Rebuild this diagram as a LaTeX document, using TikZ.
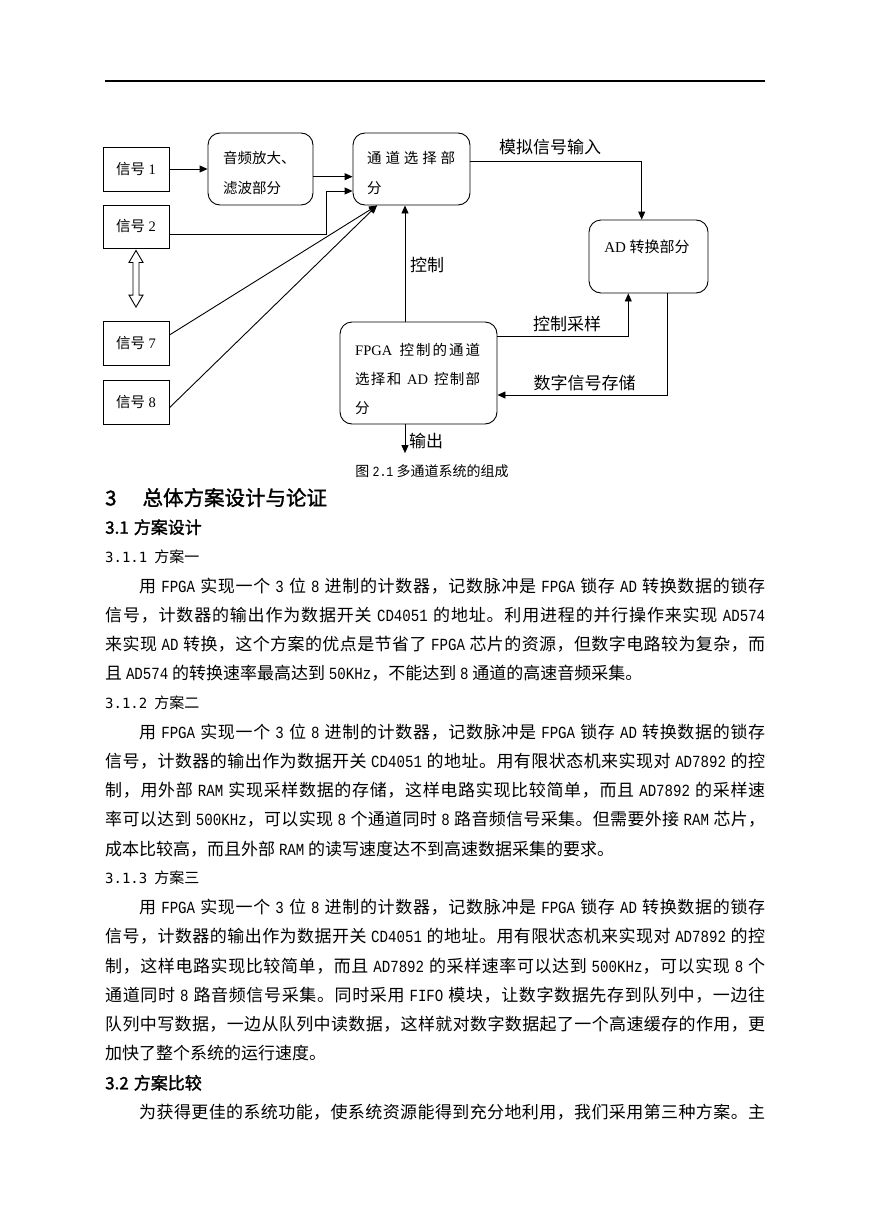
\documentclass[tikz,border=0pt]{standalone}
\usepackage{fontspec}
\setmainfont{Liberation Serif}
\newfontfamily\cjk{Noto Sans CJK SC}
\newfontfamily\hei{Noto Sans CJK SC}[FakeBold=1.5]
\newfontfamily\lt{Liberation Mono}[FakeStretch=0.83]
\newfontfamily\dvm{DejaVu Sans Mono}
\usetikzlibrary{arrows.meta,calc}

\newcount\cjkcc
\cjkcc="3000
\loop \XeTeXcharclass\cjkcc=1 \advance\cjkcc by 1 \ifnum\cjkcc<"A000 \repeat
\cjkcc="FF00
\loop \XeTeXcharclass\cjkcc=1 \advance\cjkcc by 1 \ifnum\cjkcc<"FFF0 \repeat
\XeTeXinterchartoks 1 1 = {\hskip 0pt plus 1pt\relax}
\newcommand\jl[2]{\hbox to #1{\XeTeXinterchartokenstate=1 #2}}
\newcommand\secnum[1]{{\dvm\fontsize{14}{14}\selectfont #1}\hskip 7pt}

\begin{document}
\begin{tikzpicture}[x=1pt,y=-1pt,
  sbox/.style={draw, line width=0.9pt, minimum width=66pt, inner sep=0pt, font=\fontsize{14.5}{14.5}\selectfont},
  rbox/.style={draw, line width=0.9pt, rounded corners=12pt, inner sep=0pt},
  conn/.style={line width=0.9pt, -{Triangle[length=8pt,width=7pt]}},
  dtxt/.style={anchor=base west, inner sep=0pt, font=\fontsize{14.5}{14.5}\selectfont},
  lbl/.style={inner sep=0pt, font=\cjk\fontsize{17}{17}\selectfont},
  body/.style={anchor=base west, inner sep=0pt, font=\cjk\fontsize{17}{17}\selectfont},
  hone/.style={anchor=base west, inner sep=0pt, font=\hei\fontsize{20.5}{20.5}\selectfont},
  htwo/.style={anchor=base west, inner sep=0pt, font=\hei\fontsize{17}{17}\selectfont},
  hthree/.style={anchor=base west, inner sep=0pt, font=\cjk\fontsize{15}{15}\selectfont}
]
\path[use as bounding box, fill=white] (0,0) rectangle (869,1228);
\draw[line width=1.2pt] (105,81) -- (765,81);

% boxes
\node[sbox, minimum height=44pt] (s1) at (136,169) {{\cjk 信号} 1};
\node[sbox, minimum height=43pt] (s2) at (136,226.5) {{\cjk 信号} 2};
\node[sbox, minimum height=43.5pt] (s7) at (136,343.3) {{\cjk 信号} 7};
\node[sbox, minimum height=44pt] (s8) at (136,402) {{\cjk 信号} 8};
\node[rbox, minimum width=105pt, minimum height=72pt] (aud) at (260.5,169) {};
\node[rbox, minimum width=117pt, minimum height=72pt] (chan) at (411.5,169) {};
\node[rbox, minimum width=119pt, minimum height=73pt] (ad) at (648.5,256.5) {};
\node[rbox, minimum width=157pt, minimum height=102pt] (fpga) at (418.5,373) {};

% box texts
\node[dtxt] (aud-a) at (223,163.5) {\cjk 音频放大、};
\node[dtxt] (aud-b) at (223,193.5) {\cjk 滤波部分};
\node[dtxt] (chan-a) at (367,163.5) {\cjk\jl{88pt}{通道选择部}};
\node[dtxt] (chan-b) at (367,193.5) {\cjk 分};
\node[dtxt] (fp-a) at (355,355.5) {\jl{125pt}{FPGA {\cjk 控制的通道}}};
\node[dtxt] (fp-b) at (355,384.5) {\jl{125pt}{{\cjk 选择和} AD {\cjk 控制部}}};
\node[dtxt] (fp-c) at (355,413.5) {\cjk 分};
\node[dtxt, anchor=base, font=\fontsize{15}{15}\selectfont] (ad-t) at (647,252.5) {AD {\cjk 转换部分}};

% connectors
\draw[conn] (s1.east) -- (aud.west);
\draw[conn] ($(aud.east)+(0,7.7)$) -- ($(chan.west)+(0,7.7)$);
\draw[conn] ($(s2.east)+(0,7.8)$) -| ($(chan.west)+(-26,22)$) -- ($(chan.west)+(0,22)$);
\coordinate (chin) at ($(chan.south)+(-34.5,0)$);
\draw[conn] ($(s7.east)+(0,-8.3)$) -- (chin);
\draw[conn] ($(s8.east)+(0,5.7)$) -- (chin);
\coordinate (ctlx) at (405,0);
\draw[conn] (fpga.north -| ctlx) -- (chan.south -| ctlx);
\coordinate (outend) at ($(fpga.south -| ctlx)+(0,28.7)$);
\draw[conn] (fpga.south -| ctlx) -- (outend);
\draw[conn] ($(chan.east)+(0,-7.3)$) -| ($(ad.north)+(-6.8,0)$);
\draw[conn] ($(fpga.east)+(0,-37)$) -| ($(ad.south)+(-20.2,0)$);
\draw[conn] ($(ad.south)+(19.2,0)$) |- ($(fpga.east)+(0,22)$);

% hollow double arrow
\coordinate (dtop) at ($(s2.south)+(0,2)$);
\coordinate (dbot) at ($(s7.north)+(0,-14)$);
\draw[line width=0.9pt, fill=white] (dtop) -- ++(7,12) -- ++(-4,0) -- ($(dbot)+(3,-12)$) -- ++(4,0) -- (dbot) -- ++(-7,-12) -- ++(4,0) -- ($(dtop)+(-3,12)$) -- ++(-4,0) -- cycle;

% labels
\node[lbl] (l-sim) at (550,147) {模拟信号输入};
\node[lbl] (l-ctl) at (427,265) {控制};
\node[lbl] (l-samp) at (567,324) {控制采样};
\node[lbl] (l-store) at (584.5,383) {数字信号存储};
\node[lbl] (l-out) at (426,441) {输出};
\node[inner sep=0pt, font=\cjk\fontsize{14}{14}\selectfont] (cap) at (432,471) {图 {\lt 2.1} 多通道系统的组成};

% text
\node[hone] (h3) at (105,505.4) {3\hskip 26pt 总体方案设计与论证};
\node[htwo] (h31) at (105,533.7) {3.1\hskip 5pt 方案设计};
\node[hthree] (h311) at (105,562.2) {\secnum{3.1.1}方案一};
\node[body] (p1a) at (105,592.0) {\jl{660pt}{\hspace*{34pt}用 {\lt FPGA} 实现一个 {\lt 3} 位 {\lt 8} 进制的计数器，记数脉冲是 {\lt FPGA} 锁存 {\lt AD} 转换数据的锁存}};
\node[body] (p1b) at (105,621.3) {\jl{660pt}{信号，计数器的输出作为数据开关 {\lt CD4051} 的地址。利用进程的并行操作来实现 {\lt AD574}}};
\node[body] (p1c) at (105,650.5) {\jl{660pt}{来实现 {\lt AD} 转换，这个方案的优点是节省了 {\lt FPGA} 芯片的资源，但数字电路较为复杂，而}};
\node[body] (p1d) at (105,679.7) {且 {\lt AD574} 的转换速率最高达到 {\lt 50KHz}，不能达到 {\lt 8} 通道的高速音频采集。};
\node[hthree] (h312) at (105,708.4) {\secnum{3.1.2}方案二};
\node[body] (p2a) at (105,738.2) {\jl{660pt}{\hspace*{34pt}用 {\lt FPGA} 实现一个 {\lt 3} 位 {\lt 8} 进制的计数器，记数脉冲是 {\lt FPGA} 锁存 {\lt AD} 转换数据的锁存}};
\node[body] (p2b) at (105,767.5) {\jl{660pt}{信号，计数器的输出作为数据开关 {\lt CD4051} 的地址。用有限状态机来实现对 {\lt AD7892} 的控}};
\node[body] (p2c) at (105,796.7) {\jl{660pt}{制，用外部 {\lt RAM} 实现采样数据的存储，这样电路实现比较简单，而且 {\lt AD7892} 的采样速}};
\node[body] (p2d) at (105,825.9) {\jl{660pt}{率可以达到 {\lt 500KHz}，可以实现 {\lt 8} 个通道同时 {\lt 8} 路音频信号采集。但需要外接 {\lt RAM} 芯片，}};
\node[body] (p2e) at (105,855.2) {成本比较高，而且外部 {\lt RAM} 的读写速度达不到高速数据采集的要求。};
\node[hthree] (h313) at (105,883.8) {\secnum{3.1.3}方案三};
\node[body] (p3a) at (105,913.7) {\jl{660pt}{\hspace*{34pt}用 {\lt FPGA} 实现一个 {\lt 3} 位 {\lt 8} 进制的计数器，记数脉冲是 {\lt FPGA} 锁存 {\lt AD} 转换数据的锁存}};
\node[body] (p3b) at (105,942.9) {\jl{660pt}{信号，计数器的输出作为数据开关 {\lt CD4051} 的地址。用有限状态机来实现对 {\lt AD7892} 的控}};
\node[body] (p3c) at (105,972.1) {\jl{660pt}{制，这样电路实现比较简单，而且 {\lt AD7892} 的采样速率可以达到 {\lt 500KHz}，可以实现 {\lt 8} 个}};
\node[body] (p3d) at (105,1001.4) {\jl{660pt}{通道同时 {\lt 8} 路音频信号采集。同时采用 {\lt FIFO} 模块，让数字数据先存到队列中，一边往}};
\node[body] (p3e) at (105,1030.6) {\jl{660pt}{队列中写数据，一边从队列中读数据，这样就对数字数据起了一个高速缓存的作用，更}};
\node[body] (p3f) at (105,1059.9) {加快了整个系统的运行速度。};
\node[htwo] (h32) at (105,1089.3) {3.2\hskip 5pt 方案比较};
\node[body] (p4a) at (105,1118.3) {\jl{660pt}{\hspace*{34pt}为获得更佳的系统功能，使系统资源能得到充分地利用，我们采用第三种方案。主}};
\end{tikzpicture}
\end{document}
